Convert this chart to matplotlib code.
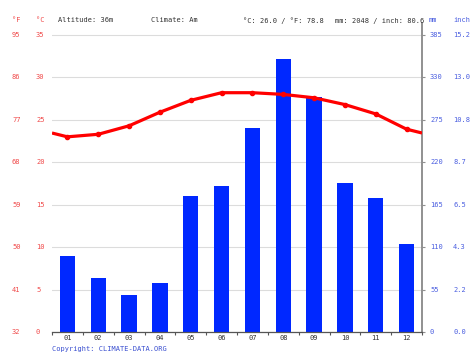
import matplotlib
matplotlib.use("Agg")
import matplotlib.pyplot as plt
import numpy as np
from matplotlib.transforms import blended_transform_factory

months = ["01", "02", "03", "04", "05", "06", "07", "08", "09", "10", "11", "12"]
temp_c = [23.0, 23.3, 24.3, 25.9, 27.3, 28.2, 28.2, 28.0, 27.6, 26.8, 25.7, 23.9]
precip_mm = [99, 70, 48, 63, 176, 189, 264, 354, 304, 193, 174, 114]

c_ticks = [0, 5, 10, 15, 20, 25, 30, 35]
f_labels = ["32", "41", "50", "59", "68", "77", "86", "95"]
mm_labels = ["0", "55", "110", "165", "220", "275", "330", "385"]
inch_labels = ["0.0", "2.2", "4.3", "6.5", "8.7", "10.8", "13.0", "15.2"]

header_info = ["Altitude: 36m", "Climate: Am", "°C: 26.0 / °F: 78.8", "mm: 2048 / inch: 80.6"]
copyright_text = "Copyright: CLIMATE-DATA.ORG"

RED = "#f04a4a"
BLUE = "#4a5ee0"
BAR = "#0028ff"
LINE = "#ff0000"
FONT = "DejaVu Sans Mono"
FS = 5.0

W, H = 474, 355
fig = plt.figure(figsize=(W / 100, H / 100), dpi=100)
px0, px1 = 52, 422
py_bottom, py_top, py35 = 332, 23, 35
ax = fig.add_axes([px0 / W, (H - py_bottom) / H, (px1 - px0) / W, (py_bottom - py_top) / H])
ctop = 35 * (py_bottom - py_top) / (py_bottom - py35)
ratio = 11.0
ax.set_ylim(0, ctop * ratio)
ax.set_xlim(-0.5, 11.5)

x = np.arange(len(months))
# grid lines
for c in c_ticks:
    ax.axhline(c * ratio, color="#dcdcdc", lw=0.8, zorder=0)
ax.bar(x, precip_mm, width=0.5, color=BAR, zorder=2)

ax2 = ax.twinx()
ax2.set_ylim(0, ctop)
edge = (temp_c[0] + temp_c[-1]) / 2
lx = np.concatenate([[-0.5], x, [11.5]])
ly = np.concatenate([[edge], temp_c, [edge]])
ax2.plot(lx, ly, color=LINE, lw=2.3, solid_capstyle="butt", zorder=3)
ax2.plot(x, temp_c, "o", color=LINE, ms=3, zorder=4)
ax2.set_yticks([])
ax2.set_xlim(-0.5, 11.5)
for s in ax2.spines.values():
    s.set_visible(False)

for s in ["top", "left"]:
    ax.spines[s].set_visible(False)
ax.spines["right"].set_color("#909090")
ax.spines["right"].set_linewidth(1.4)
ax.spines["bottom"].set_color("#555555")
ax.spines["bottom"].set_linewidth(0.9)

ax.set_xticks(np.arange(-0.5, 12, 1))
ax.set_xticklabels([])
ax.tick_params(axis="x", length=2.5, width=0.8, color="#555555", direction="out")
ax.yaxis.tick_right()
ax.set_yticks([c * ratio for c in c_ticks])
ax.set_yticklabels([])
ax.tick_params(axis="y", length=2.5, width=0.8, color="#909090", direction="out")

# tick labels as text
tl = blended_transform_factory(fig.transFigure, ax2.transData)
for c, f in zip(c_ticks, f_labels):
    fig.text(12 / W, c, f, transform=tl, color=RED, fontsize=FS, family=FONT, ha="left", va="center")
    fig.text(36 / W, c, str(c), transform=tl, color=RED, fontsize=FS, family=FONT, ha="left", va="center")
for c, m, i in zip(c_ticks, mm_labels, inch_labels):
    fig.text(430 / W, c, m, transform=tl, color=BLUE, fontsize=FS, family=FONT, ha="left", va="center")
    fig.text(453 / W, c, i, transform=tl, color=BLUE, fontsize=FS, family=FONT, ha="left", va="center")

tb = blended_transform_factory(ax.transData, fig.transFigure)
for xi, m in zip(x, months):
    fig.text(xi, 1 - 338 / H, m, transform=tb, color="#333333", fontsize=FS, family=FONT, ha="center", va="center")

def ftext(px, py, s, color):
    fig.text(px / W, 1 - py / H, s, color=color, fontsize=FS, family=FONT, ha="left", va="center")

ftext(12, 20.5, "°F", RED)
ftext(36, 20.5, "°C", RED)
for px, s in zip([58, 151, 243, 335], header_info):
    ftext(px, 20.5, s, "#333333")
ftext(429, 20.5, "mm", BLUE)
ftext(453, 20.5, "inch", BLUE)
ftext(52, 348.5, copyright_text, "#3a4fd0")

fig.savefig("out.png", dpi=100)
